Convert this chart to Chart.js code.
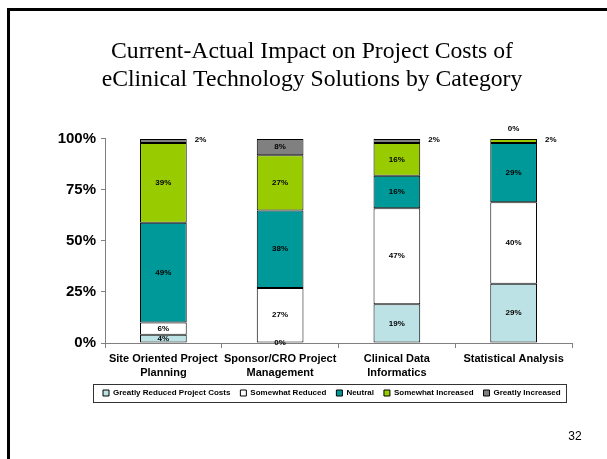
<!DOCTYPE html>
<html>
<head>
<meta charset="utf-8">
<script src="https://cdn.jsdelivr.net/npm/chart.js@4.4.0/dist/chart.umd.min.js"></script>
<style>
  html, body { margin: 0; padding: 0; background: #fff; }
  #wrap { width: 607px; height: 459px; position: relative; }
</style>
</head>
<body>
<div id="wrap"><canvas id="costChart" width="607" height="459"></canvas></div>
<script>
// Current-Actual Impact on Project Costs — stacked 100% bars

const categories = [
    ["Site Oriented Project", "Planning"],
    ["Sponsor/CRO Project", "Management"],
    ["Clinical Data", "Informatics"],
    ["Statistical Analysis"]
];

const greatlyReduced   = [4, 0, 19, 29];
const somewhatReduced  = [6, 27, 47, 40];
const neutral          = [49, 38, 16, 29];
const somewhatIncrease = [39, 27, 16, 2];
const greatlyIncrease  = [2, 8, 2, 0];

const seriesNames = [
    "Greatly Reduced Project Costs",
    "Somewhat Reduced",
    "Neutral",
    "Somewhat Increased",
    "Greatly Increased"
];

const yTicks = [0, 25, 50, 75, 100];

const titleLines = [
    "Current-Actual Impact on Project Costs of",
    "eClinical Technology Solutions by Category"
];

const pageNumber = "32";

const colors = ["#BCE2E5", "#FFFFFF", "#009999", "#99CC00", "#808080"];

const sans = "'Liberation Sans', Arial, sans-serif";

function buildDatasets() {
    var values = [greatlyReduced, somewhatReduced, neutral, somewhatIncrease, greatlyIncrease];
    return values.map(function (v, i) {
        return {
            label: seriesNames[i],
            data: v,
            backgroundColor: colors[i],
            borderColor: "#000",
            borderWidth: 1,
            borderSkipped: false,
            barPercentage: 0.4,
            categoryPercentage: 1.0
        };
    });
}

// slide frame, page number, legend box
const slidePlugin = {
    id: "slide",
    afterLayout: function (chart) {
        // legend row starts under the plot, like the slide
        chart.legend.left = 93;
    },
    beforeDraw: function (chart) {
        var c = chart.ctx;
        c.save();
        c.fillStyle = "#fff";
        c.fillRect(0, 0, chart.width, chart.height);
        c.restore();
    },
    afterDraw: function (chart) {
        var c = chart.ctx;
        c.save();
        c.strokeStyle = "#000";
        c.lineWidth = 3;
        c.beginPath();
        c.moveTo(8.5, chart.height);
        c.lineTo(8.5, 9.5);
        c.lineTo(chart.width, 9.5);
        c.stroke();

        c.fillStyle = "#000";
        c.font = "12px " + sans;
        c.textAlign = "center";
        c.textBaseline = "middle";
        c.fillText(pageNumber, 575, 437);

        var boxes = chart.legend.legendHitBoxes;
        if (boxes && boxes.length) {
            var first = boxes[0], last = boxes[boxes.length - 1];
            var l = first.left - 10, r = last.left + last.width + 5;
            var t = first.top - 5, b = first.top + first.height + 5;
            c.strokeStyle = "#333";
            c.lineWidth = 1;
            c.strokeRect(Math.round(l) + 0.5, Math.round(t) + 0.5, Math.round(r - l), Math.round(b - t));
        }
        c.restore();
    }
};

// percentage labels on the segments
const valueLabels = {
    id: "valueLabels",
    afterDatasetsDraw: function (chart) {
        var c = chart.ctx;
        var last = chart.data.datasets.length - 1;
        c.save();
        c.fillStyle = "#000";
        c.font = "bold 8px " + sans;
        c.textBaseline = "middle";
        chart.data.datasets.forEach(function (ds, i) {
            var meta = chart.getDatasetMeta(i);
            meta.data.forEach(function (bar, j) {
                var v = ds.data[j];
                var cy = (bar.y + bar.base) / 2;
                var txt = v + "%";
                if (v > 0 && v <= 2) {
                    c.textAlign = "left";
                    c.fillText(txt, bar.x + bar.width / 2 + 8, cy - 1);
                } else if (v === 0 && i === last) {
                    c.textAlign = "center";
                    c.fillText(txt, bar.x, bar.y - 10);
                } else {
                    c.textAlign = "center";
                    c.fillText(txt, bar.x, cy);
                }
            });
        });
        c.restore();
    }
};

const ctx = document.getElementById("costChart").getContext("2d");

const costChart = new Chart(ctx, {
    type: "bar",
    data: {
        labels: categories,
        datasets: buildDatasets()
    },
    plugins: [slidePlugin, valueLabels],
    options: {
        responsive: false,
        animation: false,
        layout: {
            padding: { left: 52, right: 35, top: 0, bottom: 52 }
        },
        scales: {
            x: {
                stacked: true,
                grid: {
                    display: true,
                    drawOnChartArea: false,
                    tickLength: 5,
                    color: "#808080"
                },
                border: { color: "#808080", width: 1 },
                ticks: {
                    color: "#000",
                    padding: 4,
                    maxRotation: 0,
                    autoSkip: false,
                    font: { family: sans, size: 11, weight: "bold", lineHeight: 1.3 }
                },
                afterFit: function (axis) { axis.height = 36; }
            },
            y: {
                stacked: true,
                min: 0,
                max: 100,
                afterBuildTicks: function (axis) {
                    axis.ticks = yTicks.map(function (v) { return { value: v }; });
                },
                grid: {
                    display: true,
                    drawOnChartArea: false,
                    tickLength: 4,
                    color: "#808080"
                },
                border: { color: "#808080", width: 1 },
                ticks: {
                    color: "#000",
                    padding: 5,
                    font: { family: sans, size: 15, weight: "bold" },
                    callback: function (v) { return v + "%"; }
                },
                afterFit: function (axis) { axis.width = 53; }
            }
        },
        plugins: {
            title: {
                display: true,
                text: titleLines,
                color: "#000",
                font: { family: "'Liberation Serif', 'Times New Roman', serif", size: 23.7, weight: "normal", lineHeight: 1.2 },
                padding: { top: 37.4, bottom: 44.7 }
            },
            legend: {
                display: true,
                position: "bottom",
                align: "start",
                labels: {
                    color: "#000",
                    boxWidth: 6,
                    boxHeight: 6,
                    padding: 10,
                    font: { family: sans, size: 8, weight: "bold" }
                }
            },
            tooltip: { enabled: false }
        }
    }
});
</script>
</body>
</html>
